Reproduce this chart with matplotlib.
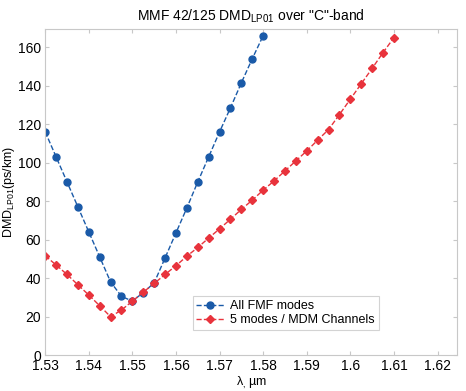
import matplotlib
matplotlib.use("Agg")
import matplotlib.pyplot as plt

plt.rcParams['font.family'] = ['Liberation Sans', 'DejaVu Sans']

# wavelength (um) and DMD values (ps/km)
wl_all = [1.53, 1.5325, 1.535, 1.5375, 1.54, 1.5425, 1.545, 1.5475, 1.55,
          1.5525, 1.555, 1.5575, 1.56, 1.5625, 1.565, 1.5675, 1.57, 1.5725,
          1.575, 1.5775, 1.58]
dmd_all = [116, 103, 90, 77, 64, 51, 38, 30.5, 28,
           32.5, 37.5, 50.5, 63.5, 76.5, 90, 103, 116, 128.5,
           141.5, 154, 166]

wl_mdm = [1.53, 1.5325, 1.535, 1.5375, 1.54, 1.5425, 1.545, 1.5475, 1.55,
          1.5525, 1.555, 1.5575, 1.56, 1.5625, 1.565, 1.5675, 1.57, 1.5725,
          1.575, 1.5775, 1.58, 1.5825, 1.585, 1.5875, 1.59, 1.5925, 1.595,
          1.5975, 1.6, 1.6025, 1.605, 1.6075, 1.61]
dmd_mdm = [51.6, 46.8, 41.9, 36.5, 31.2, 25.6, 19.9, 23.4, 28,
           32.7, 37.2, 41.9, 46.4, 51.4, 55.9, 60.8, 65.6, 70.6,
           75.7, 80.5, 85.7, 90.5, 95.7, 100.9, 106.1, 111.7, 117.2,
           125, 133, 141, 149, 157.2, 165]

x_ticks = [1.53, 1.54, 1.55, 1.56, 1.57, 1.58, 1.59, 1.6, 1.61, 1.62]
x_labels = ['1.53', '1.54', '1.55', '1.56', '1.57', '1.58', '1.59', '1.6', '1.61', '1.62']
y_ticks = [0, 20, 40, 60, 80, 100, 120, 140, 160]

blue = '#1a5aa8'
red = '#e8333c'

fig = plt.figure(figsize=(4.66, 3.91), dpi=100)
ax = fig.add_axes([0.097, 0.092, 0.884, 0.834])

ax.plot(wl_all, dmd_all, linestyle='--', color=blue, linewidth=1,
        marker='o', markersize=5, markerfacecolor=blue, markeredgecolor=blue,
        label='All FMF modes')
ax.plot(wl_mdm, dmd_mdm, linestyle='--', color=red, linewidth=1,
        marker='D', markersize=4.2, markerfacecolor=red, markeredgecolor=red,
        label='5 modes / MDM Channels')

ax.set_xlim(1.53, 1.6245)
ax.set_ylim(0, 169.5)
ax.set_xticks(x_ticks)
ax.set_xticklabels(x_labels)
ax.set_yticks(y_ticks)

for s in ax.spines.values():
    s.set_color('#c8c8c8')
ax.tick_params(direction='in', color='#c8c8c8', labelsize=10, length=3,
               top=True, right=True, pad=3)

ax.set_title('MMF 42/125 DMD$_{\\mathregular{LP01}}$ over "C"-band', fontsize=10, pad=6)
ax.set_xlabel('λ$_{\\mathregular{,}}$ µm', fontsize=9, labelpad=1)
ax.set_ylabel('DMD$_{\\mathregular{LP01}}$(ps/km)', fontsize=9)
ax.yaxis.set_label_coords(-0.068, 0.5)

leg = ax.legend(loc='lower left', bbox_to_anchor=(0.343, 0.058), fontsize=9,
                frameon=True, fancybox=False, edgecolor='#c8c8c8',
                handlelength=2.2, borderpad=0.3, labelspacing=0.15,
                handletextpad=0.5)
leg.get_frame().set_linewidth(0.8)

fig.savefig('out.png', dpi=100)
